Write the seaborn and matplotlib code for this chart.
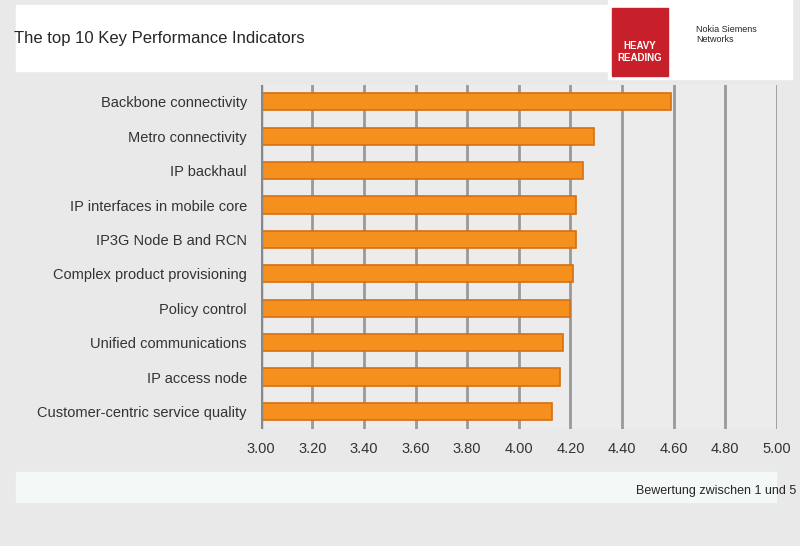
import matplotlib
matplotlib.use("Agg")
import matplotlib.pyplot as plt
import seaborn as sns
import pandas as pd
from matplotlib.patches import Rectangle

categories = ["Backbone connectivity","Metro connectivity","IP backhaul","IP interfaces in mobile core",
              "IP3G Node B and RCN","Complex product provisioning","Policy control","Unified communications",
              "IP access node","Customer-centric service quality"]
values = [4.59, 4.29, 4.25, 4.22, 4.22, 4.21, 4.20, 4.17, 4.16, 4.13]
ticks = [3.0,3.2,3.4,3.6,3.8,4.0,4.2,4.4,4.6,4.8,5.0]

sns.set_style("white")
plt.rcParams['font.family'] = ['Liberation Sans', 'DejaVu Sans']
fig = plt.figure(figsize=(8, 5.46), dpi=100)
fig.patch.set_facecolor("#e9e9e9")
fig.patches.append(Rectangle((0.02, 0.87), 0.74, 0.12, transform=fig.transFigure, color="white", zorder=0))
fig.patches.append(Rectangle((0.02, 0.08), 0.95, 0.055, transform=fig.transFigure, color="#f4f8f6", zorder=0))
fig.patches.append(Rectangle((0.76, 0.855), 0.23, 0.145, transform=fig.transFigure, color="white", zorder=0))
fig.patches.append(Rectangle((0.765, 0.86), 0.07, 0.125, transform=fig.transFigure, color="#c8202a", zorder=1))
fig.text(0.80, 0.885, "HEAVY\nREADING", color="white", fontsize=7, ha="center", va="bottom", fontweight="bold")
fig.text(0.87, 0.955, "Nokia Siemens\nNetworks", fontsize=6.5, va="top")
fig.text(0.018, 0.93, "The top 10 Key Performance Indicators", fontsize=12, va="center")
fig.text(0.995, 0.10, "Bewertung zwischen 1 und 5", fontsize=9, ha="right", va="center")

ax = fig.add_axes([0.326, 0.215, 0.645, 0.63])
ax.set_facecolor("#ececec")
df = pd.DataFrame({"cat": categories, "val": values})
sns.barplot(data=df, y="cat", x="val", ax=ax, color="#f5901f", edgecolor="#d86f10",
            linewidth=1.2, width=0.5, saturation=1, zorder=3)
ax.set_xlim(3.0, 5.0)
ax.set_xticks(ticks)
ax.set_xticklabels([f"{t:.2f}" for t in ticks], fontsize=10.5, color="#333")
ax.tick_params(axis="y", labelsize=10.5, labelcolor="#333", length=0, pad=10)
ax.tick_params(axis="x", length=0, pad=10)
ax.grid(axis="x", color="#999999", linewidth=2, zorder=0)
ax.set_axisbelow(True)
ax.set_xlabel(""); ax.set_ylabel("")
for s in ax.spines.values():
    s.set_visible(False)
ax.axvline(3.0, color="#888888", linewidth=2.5, zorder=4)
fig.savefig("out.png", dpi=100, facecolor=fig.get_facecolor())
